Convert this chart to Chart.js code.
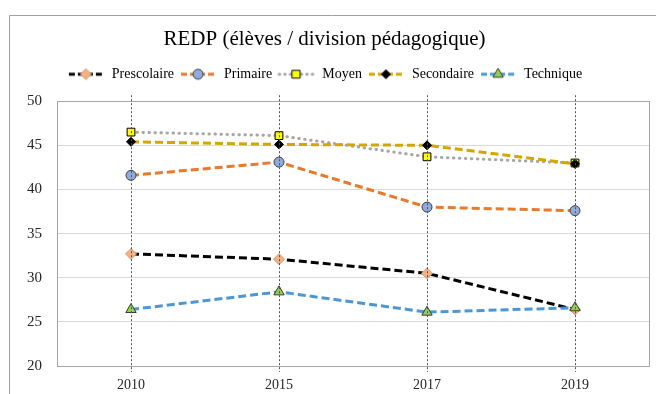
<!DOCTYPE html>
<html>
<head>
<meta charset="utf-8">
<script src="https://cdn.jsdelivr.net/npm/chart.js@4/dist/chart.umd.min.js"></script>
<style>
  html, body { margin: 0; padding: 0; background: #fff; }
  #wrap { width: 656px; height: 394px; }
</style>
</head>
<body>
<div id="wrap"><canvas id="redp" width="656" height="394"></canvas></div>
<script>
const years = ['2010', '2015', '2017', '2019'];
const prescolaire = [32.7, 32.1, 30.5, 26.4];
const primaire = [41.6, 43.1, 38.0, 37.6];
const moyen = [46.5, 46.1, 43.7, 43.0];
const secondaire = [45.4, 45.1, 45.0, 42.9];
const technique = [26.4, 28.4, 26.1, 26.6];

const serif = 'Liberation Serif, Times New Roman, serif';

const series = [
  { label: 'Prescolaire', data: prescolaire, color: '#000000', dash: [8, 4], cap: 'butt',
    style: 'rectRot', radius: 5.5, fill: '#F4B183', edge: '#D39A76', order: 5 },
  { label: 'Primaire', data: primaire, color: '#E87A2A', dash: [8, 4], cap: 'butt',
    style: 'circle', radius: 5, fill: '#8FAADC', edge: '#404040', order: 4 },
  { label: 'Moyen', data: moyen, color: '#A6A6A6', dash: [0.5, 5.5], cap: 'round',
    style: 'rect', radius: 5.5, fill: '#FFFF00', edge: '#000000', order: 3 },
  { label: 'Secondaire', data: secondaire, color: '#D4A600', dash: [8, 4], cap: 'butt',
    style: 'rectRot', radius: 4.5, fill: '#000000', edge: '#000000', order: 2 },
  { label: 'Technique', data: technique, color: '#4A97D3', dash: [8, 4], cap: 'butt',
    style: 'triangle', radius: 6, fill: '#92D050', edge: '#3A3A3A', order: 1 }
];

// little line + marker pictures for the legend
function legendIcon(s) {
  const c = document.createElement('canvas');
  c.width = 38; c.height = 14;
  const g = c.getContext('2d');
  g.strokeStyle = s.color;
  g.lineWidth = 3;
  g.lineCap = s.cap;
  g.setLineDash(s.cap === 'round' ? [0.5, 5] : [6, 3]);
  g.beginPath(); g.moveTo(2, 7); g.lineTo(36, 7); g.stroke();
  g.setLineDash([]);
  g.fillStyle = s.fill;
  g.strokeStyle = s.edge;
  g.lineWidth = 1;
  Chart.helpers.drawPoint(g, { pointStyle: s.style, radius: s.radius, rotation: 0, borderWidth: 1 }, 19, 7);
  return c;
}
const icons = series.map(legendIcon);

const frame = {
  id: 'frame',
  beforeInit(chart) {
    // leave some air between the legend and the plot
    const fit = chart.legend.fit;
    chart.legend.fit = function () { fit.call(this); this.height += 10; };
  },
  beforeDraw(chart) {
    const ctx = chart.ctx;
    ctx.save();
    ctx.fillStyle = '#fff';
    ctx.fillRect(0, 0, chart.width, chart.height);
    ctx.strokeStyle = '#A0A0A0';
    ctx.lineWidth = 1;
    ctx.beginPath();
    ctx.moveTo(9.5, chart.height);
    ctx.lineTo(9.5, 15.5);
    ctx.lineTo(chart.width, 15.5);
    ctx.stroke();
    ctx.restore();
  },
  beforeDatasetsDraw(chart) {
    const { ctx, chartArea: a } = chart;
    ctx.save();
    ctx.strokeStyle = '#A6A6A6';
    ctx.lineWidth = 1;
    ctx.strokeRect(Math.round(a.left) + 0.5, Math.round(a.top) + 0.5,
      Math.round(a.right - a.left), Math.round(a.bottom - a.top));
    ctx.restore();
  },
  afterDatasetsDraw(chart) {
    // dotted drop lines through each year
    const { ctx, chartArea: a } = chart;
    const x = chart.scales.x;
    ctx.save();
    ctx.strokeStyle = '#505050';
    ctx.lineWidth = 1;
    ctx.setLineDash([2, 2]);
    years.forEach((_, i) => {
      const px = Math.round(x.getPixelForValue(i)) + 0.5;
      ctx.beginPath();
      ctx.moveTo(px, a.top - 6);
      ctx.lineTo(px, a.bottom + 6);
      ctx.stroke();
    });
    ctx.restore();
  }
};

const RedpChart = new Chart(document.getElementById('redp'), {
  type: 'line',
  data: {
    labels: years,
    datasets: series.map(s => ({
      label: s.label,
      data: s.data,
      borderColor: s.color,
      borderWidth: 3,
      borderDash: s.dash,
      borderCapStyle: s.cap,
      pointStyle: s.style,
      pointRadius: s.radius,
      pointBackgroundColor: s.fill,
      pointBorderColor: s.edge,
      pointBorderWidth: 1,
      fill: false,
      tension: 0,
      order: s.order
    }))
  },
  options: {
    responsive: false,
    animation: false,
    layout: { padding: { top: 15, right: 7, bottom: 0, left: 0 } },
    plugins: {
      title: {
        display: true,
        text: 'REDP (élèves / division pédagogique)',
        color: '#000',
        font: { family: serif, size: 21, weight: 'normal' },
        padding: { top: 12, bottom: 10 }
      },
      legend: {
        position: 'top',
        labels: {
          usePointStyle: true,
          pointStyleWidth: 38,
          padding: 5,
          color: '#000',
          font: { family: serif, size: 14 },
          generateLabels(chart) {
            const items = Chart.defaults.plugins.legend.labels.generateLabels(chart);
            items.sort((p, q) => p.datasetIndex - q.datasetIndex);
            items.forEach(it => { it.pointStyle = icons[it.datasetIndex]; });
            return items;
          }
        }
      },
      tooltip: { enabled: false }
    },
    scales: {
      x: {
        offset: true,
        grid: { display: false, drawTicks: false },
        border: { display: false },
        ticks: { color: '#262626', padding: 11, font: { family: serif, size: 14 } },
        afterFit(scale) { scale.height = 28; }
      },
      y: {
        min: 20,
        max: 50,
        grid: { color: '#D9D9D9', drawTicks: false },
        border: { display: false },
        ticks: { stepSize: 5, color: '#262626', padding: 15, font: { family: serif, size: 15 } },
        afterFit(scale) { scale.width = 57; }
      }
    }
  },
  plugins: [frame]
});
</script>
</body>
</html>
